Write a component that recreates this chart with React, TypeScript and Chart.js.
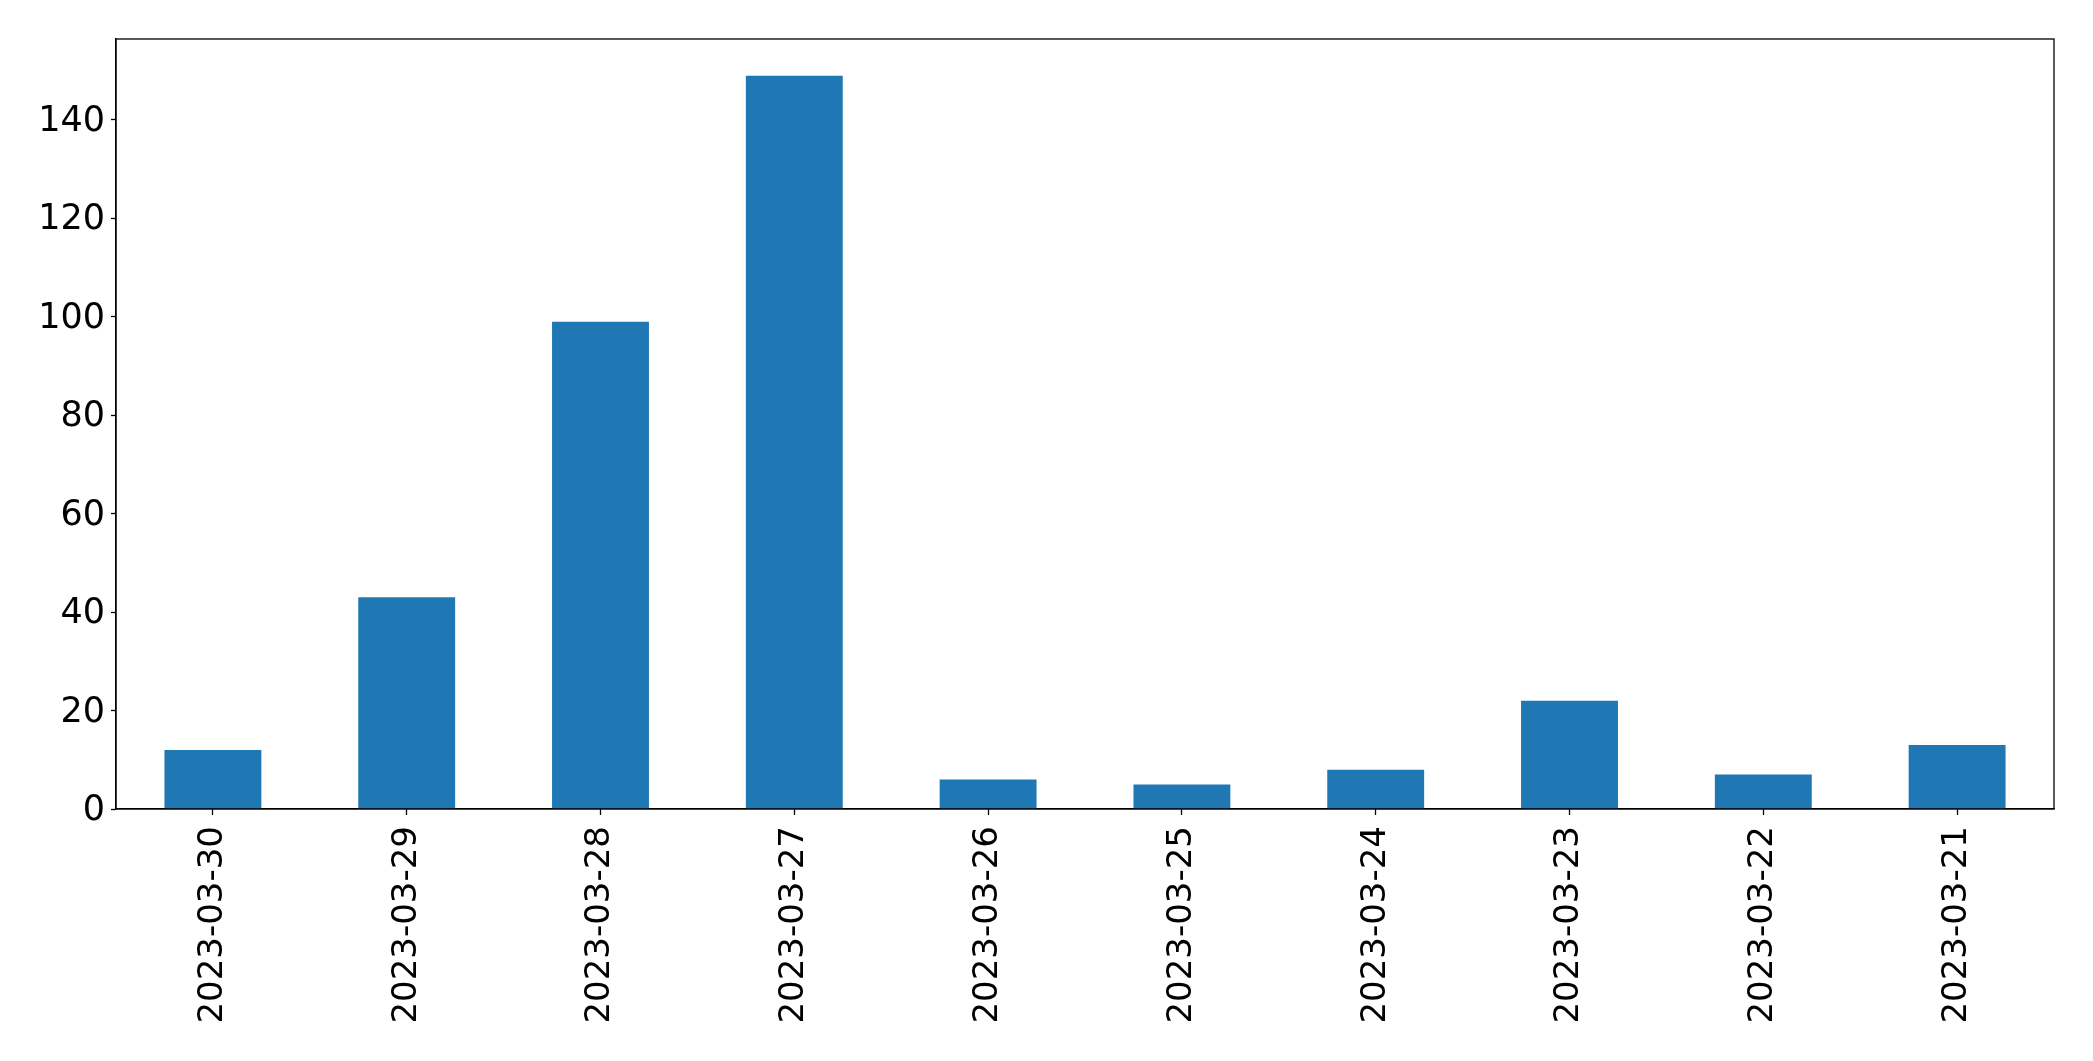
import React, { useEffect, useRef } from "react";
import { Chart, registerables } from "chart.js";

Chart.register(...registerables);

const categories = [
  "2023-03-30",
  "2023-03-29",
  "2023-03-28",
  "2023-03-27",
  "2023-03-26",
  "2023-03-25",
  "2023-03-24",
  "2023-03-23",
  "2023-03-22",
  "2023-03-21",
];
const counts = [12, 43, 99, 149, 6, 5, 8, 22, 7, 13];
const yTickStep = 20;

const W = 2093;
const H = 1061;

const framePlugin = {
  id: "frame",
  afterDraw(chart: any) {
    const { ctx, chartArea } = chart;
    ctx.save();
    ctx.strokeStyle = "#000";
    ctx.lineWidth = 1.3;
    ctx.strokeRect(chartArea.left, chartArea.top, chartArea.right - chartArea.left, chartArea.bottom - chartArea.top);
    ctx.restore();
  },
};

export default function App() {
  const ref = useRef<HTMLCanvasElement>(null);
  useEffect(() => {
    const maxVal = Math.max(...counts);
    const chart = new Chart(ref.current!, {
      type: "bar",
      data: {
        labels: categories,
        datasets: [
          {
            data: counts,
            backgroundColor: "#1f77b4",
            barPercentage: 0.5,
            categoryPercentage: 1,
          },
        ],
      },
      options: {
        animation: false,
        responsive: false,
        devicePixelRatio: 1,
        layout: { padding: { top: 39, right: 39, left: 0, bottom: 0 } },
        plugins: { legend: { display: false }, tooltip: { enabled: false } },
        scales: {
          x: {
            grid: { display: true, offset: false, drawOnChartArea: false, drawTicks: true, tickLength: 6, tickColor: "#000", tickWidth: 1.3 },
            border: { display: true, color: "#000", width: 1.3 },
            ticks: {
              color: "#000",
              font: { family: "DejaVu Sans", size: 34 },
              minRotation: 90,
              maxRotation: 90,
              padding: 11,
              autoSkip: false,
            },
            afterFit: (s: any) => {
              s.height = H - 809;
            },
          },
          y: {
            min: 0,
            max: maxVal * 1.05,
            grid: { display: true, drawOnChartArea: false, drawTicks: true, tickLength: 5, tickColor: "#000", tickWidth: 1.3 },
            border: { display: true, color: "#000", width: 1.3 },
            ticks: {
              stepSize: yTickStep,
              includeBounds: false,
              color: "#000",
              font: { family: "DejaVu Sans", size: 35 },
              padding: 6,
              labelOffset: 2,
            },
            afterFit: (s: any) => {
              s.width = 116;
            },
          },
        },
      },
      plugins: [framePlugin],
    });
    return () => chart.destroy();
  }, []);
  return (
    <div style={{ position: "absolute", left: 0, top: 0, width: W, height: H, background: "#fff" }}>
      <canvas ref={ref} width={W} height={H} style={{ width: W, height: H }} />
    </div>
  );
}
